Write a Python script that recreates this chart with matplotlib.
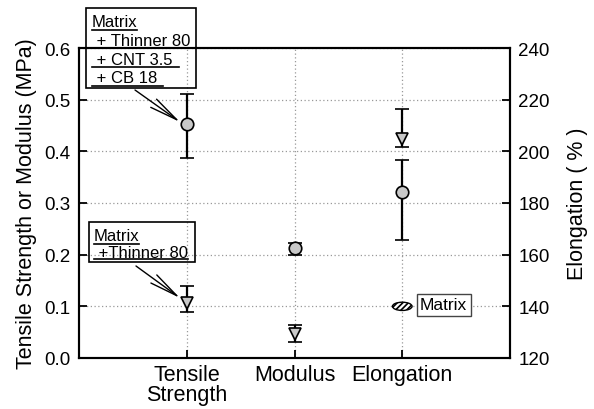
import matplotlib
matplotlib.use("Agg")
import matplotlib.pyplot as plt
from matplotlib.path import Path
from matplotlib.patches import Rectangle
from matplotlib.lines import Line2D
import numpy as np

plt.rcParams['font.family'] = ['Liberation Sans', 'DejaVu Sans']

categories = ['Tensile\nStrength', 'Modulus', 'Elongation']
xpos = [1, 2, 3]

# Matrix + Thinner 80 + CNT 3.5 + CB 18 (circles)
circ_ts_mod = [0.452, 0.212]
circ_ts_mod_lo = [0.387, 0.200]
circ_ts_mod_hi = [0.511, 0.222]
circ_elong = 184.3
circ_elong_lo = 165.7
circ_elong_hi = 196.7

# Matrix + Thinner 80 (down triangles)
tri_ts_mod = [0.107, 0.047]
tri_ts_mod_lo = [0.090, 0.031]
tri_ts_mod_hi = [0.139, 0.063]
tri_elong = 204.7
tri_elong_lo = 201.8
tri_elong_hi = 216.4

# Matrix only (elongation)
matrix_elong = 140.0

W, H = 594, 410
fig = plt.figure(figsize=(W/100, H/100), dpi=100)
ax = fig.add_axes([79/W, 1-359/H, (510-79)/W, (359-49)/H])
ax2 = ax.twinx()

ax.set_xlim(0, 4)
ax.set_ylim(0, 0.6)
ax2.set_ylim(120, 240)

grid_kw = dict(color='#999999', linestyle=(0, (1, 2)), linewidth=0.9)
ax.set_yticks(np.arange(0, 0.61, 0.1))
ax.set_yticklabels([f'{v:.1f}' for v in np.arange(0, 0.61, 0.1)])
ax2.set_yticks(np.arange(120, 241, 20))
ax.set_xticks(xpos)
ax.grid(True, **grid_kw)
ax.set_axisbelow(True)

for a in (ax, ax2):
    a.tick_params(direction='in', length=6, width=1.3, labelsize=13.5, pad=6)
    for s in a.spines.values():
        s.set_linewidth(1.5)
ax.set_xticklabels(categories, fontsize=15.5, linespacing=0.95)
ax.tick_params(axis='x', pad=4)

ax.set_ylabel('Tensile Strength or Modulus (MPa)', fontsize=15.5, labelpad=5)
ax2.set_ylabel('Elongation ( % )', fontsize=15.5, rotation=90, labelpad=12)

eb_kw = dict(ecolor='black', elinewidth=1.6, capsize=5, capthick=1.6,
             linestyle='none', markeredgecolor='black', markeredgewidth=1.2,
             markerfacecolor='#c8c8c8', zorder=5)

ax.errorbar(xpos[:2], circ_ts_mod,
            yerr=[np.array(circ_ts_mod) - np.array(circ_ts_mod_lo),
                  np.array(circ_ts_mod_hi) - np.array(circ_ts_mod)],
            marker='o', markersize=9, **eb_kw)
ax.errorbar(xpos[:2], tri_ts_mod,
            yerr=[np.array(tri_ts_mod) - np.array(tri_ts_mod_lo),
                  np.array(tri_ts_mod_hi) - np.array(tri_ts_mod)],
            marker='v', markersize=9, **eb_kw)
ax2.errorbar([xpos[2]], [circ_elong],
             yerr=[[circ_elong - circ_elong_lo], [circ_elong_hi - circ_elong]],
             marker='o', markersize=9, **eb_kw)
ax2.errorbar([xpos[2]], [tri_elong],
             yerr=[[tri_elong - tri_elong_lo], [tri_elong_hi - tri_elong]],
             marker='v', markersize=9, **eb_kw)

# hatched ellipse marker for Matrix
circ = Path.unit_circle()
ell = Path(circ.vertices * np.array([1.0, 0.42]), circ.codes)
plt.rcParams['hatch.linewidth'] = 1.2
ax2.scatter([xpos[2]], [matrix_elong], marker=ell, s=200, facecolor='white',
            edgecolor='black', hatch='//////', linewidths=1.0, zorder=6)

def P(x, y):
    return (x / W, 1 - y / H)

def box(x0, y0, x1, y1):
    fig.add_artist(Rectangle(P(x0, y1), (x1 - x0)/W, (y1 - y0)/H,
                             transform=fig.transFigure, fill=False,
                             edgecolor='black', linewidth=1.2, zorder=2))

def hline(x0, x1, y, lw=1.2):
    fig.add_artist(Line2D([x0/W, x1/W], [1-y/H, 1-y/H], transform=fig.transFigure,
                          color='black', linewidth=lw, zorder=2))

def txt(x, y, s):
    fig.text(*P(x, y), s, fontsize=12, ha='left', va='baseline', zorder=2)

# Annotation box 1
box(86, 9, 196, 89)
txt(92, 27, 'Matrix')
hline(92, 137, 31)
txt(92, 46, ' + Thinner 80')
txt(92, 65, ' + CNT 3.5')
hline(92, 179, 68)
txt(92, 83, ' + CB 18')
hline(92, 163, 87)

# Annotation box 2
box(89, 223, 195, 263)
txt(94, 241, 'Matrix')
hline(94, 139, 244.5)
txt(94, 258, ' +Thinner 80')
hline(94, 188, 259.5)

arrow_kw = dict(arrowstyle='->,head_length=1.7,head_width=0.3', color='black',
                lw=1.0, mutation_scale=12, shrinkA=0, shrinkB=0)
ax.annotate('', xy=(180, H-123), xycoords='figure pixels',
            xytext=(135, H-91), textcoords='figure pixels', arrowprops=arrow_kw,
            annotation_clip=False)
ax.annotate('', xy=(180, H-299), xycoords='figure pixels',
            xytext=(136, H-267), textcoords='figure pixels', arrowprops=arrow_kw,
            annotation_clip=False)

ax2.text(420, H-306, 'Matrix', transform=None, fontsize=12.5, ha='left', va='center',
         bbox=dict(boxstyle='square,pad=0.2', facecolor='white', edgecolor='#444444',
                   linewidth=1.0), zorder=7)

fig.savefig('out.png', dpi=100)
